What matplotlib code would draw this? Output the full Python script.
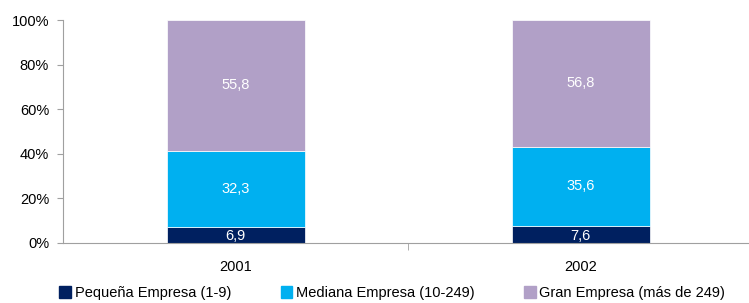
import numpy as np
import matplotlib.pyplot as plt
from matplotlib.patches import Patch

plt.rcParams['font.family'] = ['Liberation Sans', 'DejaVu Sans']

years = ['2001', '2002']
series = ['Pequeña Empresa (1-9)', 'Mediana Empresa (10-249)', 'Gran Empresa (más de 249)']
pequena = [6.9, 7.6]
mediana = [32.3, 35.6]
gran = [55.8, 56.8]
colors = ['#002060', '#00B0F0', '#B1A0C7']

values = np.array([pequena, mediana, gran])
shares = values / values.sum(axis=0) * 100

fs = 10.5
fig = plt.figure(figsize=(7.49, 3.03), dpi=100)
ax = fig.add_axes([63 / 749, 1 - 243 / 303, 690 / 749, 223 / 303])

x = np.arange(len(years))
bottom = np.zeros(len(years))
for i, name in enumerate(series):
    ax.bar(x, shares[i], 0.4, bottom=bottom, color=colors[i], label=name,
           edgecolor='white', linewidth=0.5)
    for j in range(len(years)):
        yc = bottom[j] + shares[i][j] / 2
        if i == 0:
            yc -= 0.6
        ax.text(x[j], yc, f"{values[i][j]:.1f}".replace('.', ','),
                ha='center', va='center', color='white', fontsize=fs)
    bottom += shares[i]

ax.set_xlim(-0.5, 1.5)
ax.set_ylim(0, 100)
ax.set_yticks(np.arange(0, 101, 20))
ax.set_yticklabels([f"{v}%" for v in range(0, 101, 20)], fontsize=fs)
ax.set_xticks(x)
ax.set_xticklabels(years, fontsize=fs)
ax.tick_params(axis='x', length=0, pad=12)
ax.set_xticks([0.5], minor=True)
ax.tick_params(axis='x', which='minor', length=5, color='#A0A0A0')
ax.tick_params(axis='y', length=4, color='#A0A0A0', pad=6)
for s in ['top', 'right']:
    ax.spines[s].set_visible(False)
for s in ['left', 'bottom']:
    ax.spines[s].set_color('#A0A0A0')

handles = [Patch(color=c) for c in colors]
fig.legend(handles, series, loc='center left', bbox_to_anchor=(52 / 749, 1 - 293 / 303), ncol=3,
           frameon=False, fontsize=fs, handlelength=0.8, handleheight=0.8,
           handletextpad=0.25, columnspacing=3.4, borderpad=0)

fig.savefig('out.png', dpi=100)
